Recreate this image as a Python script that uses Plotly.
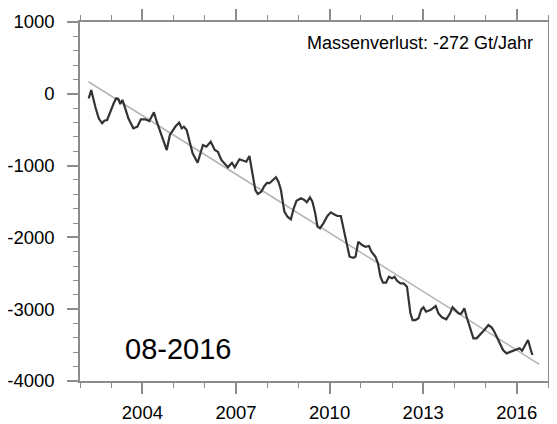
import plotly.graph_objects as go

# Monthly mass anomaly (Gt)
years = [2002.28, 2002.36, 2002.49, 2002.60, 2002.71, 2002.78, 2002.87, 2002.97, 2003.08, 2003.16,
         2003.23, 2003.29, 2003.36, 2003.45, 2003.55, 2003.71, 2003.84, 2003.95, 2004.09, 2004.22,
         2004.37, 2004.46, 2004.62, 2004.78, 2004.88, 2004.99, 2005.07, 2005.18, 2005.26, 2005.33,
         2005.42, 2005.50, 2005.61, 2005.77, 2005.86, 2005.94, 2006.05, 2006.19, 2006.32, 2006.42,
         2006.53, 2006.64, 2006.74, 2006.87, 2006.96, 2007.11, 2007.24, 2007.33, 2007.43, 2007.54,
         2007.62, 2007.70, 2007.81, 2007.91, 2008.00, 2008.07, 2008.16, 2008.28, 2008.36, 2008.44,
         2008.55, 2008.65, 2008.76, 2008.85, 2008.94, 2009.08, 2009.19, 2009.27, 2009.37, 2009.45,
         2009.54, 2009.61, 2009.69, 2009.80, 2009.93, 2010.04, 2010.14, 2010.25, 2010.36, 2010.46,
         2010.57, 2010.64, 2010.76, 2010.83, 2010.92, 2011.04, 2011.15, 2011.26, 2011.34, 2011.47,
         2011.55, 2011.63, 2011.71, 2011.81, 2011.90, 2012.00, 2012.08, 2012.16, 2012.27, 2012.37,
         2012.48, 2012.53, 2012.59, 2012.66, 2012.75, 2012.85, 2012.94, 2013.01, 2013.09, 2013.23,
         2013.40, 2013.49, 2013.60, 2013.74, 2013.86, 2013.94, 2014.02, 2014.13, 2014.21, 2014.32,
         2014.39, 2014.50, 2014.61, 2014.71, 2014.82, 2014.96, 2015.09, 2015.19, 2015.28, 2015.40,
         2015.56, 2015.67, 2015.81, 2015.94, 2016.09, 2016.17, 2016.27, 2016.36, 2016.45, 2016.50]
mass = [-63, 53, -180, -341, -411, -375, -365, -249, -132, -63,
        -72, -142, -86, -202, -341, -481, -458, -355, -355, -379,
        -258, -389, -574, -783, -574, -504, -449, -403, -481, -458,
        -504, -644, -829, -960, -829, -713, -737, -667, -783, -807,
        -922, -968, -1024, -960, -1024, -912, -932, -946, -866, -1155,
        -1340, -1396, -1364, -1284, -1238, -1247, -1211, -1163, -1224, -1340,
        -1642, -1712, -1748, -1595, -1489, -1456, -1479, -1511, -1442, -1503,
        -1665, -1851, -1874, -1804, -1702, -1651, -1679, -1702, -1702, -1897,
        -2130, -2269, -2283, -2269, -2060, -2106, -2130, -2120, -2200, -2269,
        -2361, -2548, -2631, -2631, -2548, -2570, -2548, -2604, -2640, -2640,
        -2687, -2872, -3058, -3151, -3151, -3127, -3002, -2974, -3035, -3012,
        -2956, -3058, -3113, -3141, -3058, -2974, -3012, -3058, -3067, -2988,
        -3105, -3267, -3406, -3406, -3360, -3290, -3221, -3253, -3314, -3430,
        -3569, -3615, -3593, -3569, -3545, -3579, -3499, -3430, -3569, -3638]

# Linear trend (-272 Gt/Jahr)
trend_years = [2002.27, 2016.72]
trend_mass = [168, -3767]

x_tickvals = [2004, 2007, 2010, 2013, 2016]
x_ticktext = ["2004", "2007", "2010", "2013", "2016"]
y_tickvals = [1000, 0, -1000, -2000, -3000, -4000]
y_ticktext = ["1000", "0", "-1000", "-2000", "-3000", "-4000"]

label_rate = "Massenverlust: -272 Gt/Jahr"
label_date = "08-2016"

font_family = "Liberation Sans, Arial, Helvetica, sans-serif"
axis_col = "#8c8c8c"

fig = go.Figure()
fig.add_trace(go.Scatter(x=trend_years, y=trend_mass, mode="lines",
                         line=dict(color="#b4b4b4", width=1.5), showlegend=False))
fig.add_trace(go.Scatter(x=years, y=mass, mode="lines",
                         line=dict(color="#333333", width=2.2), showlegend=False))

axis_common = dict(
    showgrid=False, zeroline=False, showline=True, linecolor=axis_col, linewidth=1.5,
    mirror="ticks", ticks="outside", ticklen=11, tickwidth=1.5, tickcolor=axis_col,
    automargin=False,
    tickfont=dict(family=font_family, size=18.5, color="#000000"),
)

fig.update_xaxes(range=[2002, 2017], tickvals=x_tickvals, ticktext=x_ticktext,
                 ticklabelstandoff=3,
                 minor=dict(dtick=1, tick0=2002, ticks="outside", ticklen=5,
                            tickwidth=1.2, tickcolor=axis_col, showgrid=False),
                 **axis_common)
fig.update_yaxes(range=[-4000, 1000], tickvals=y_tickvals, ticktext=y_ticktext,
                 ticklabelstandoff=9,
                 minor=dict(dtick=200, tick0=0, ticks="outside", ticklen=5,
                            tickwidth=1.2, tickcolor=axis_col, showgrid=False),
                 **axis_common)

fig.add_annotation(text=label_rate, xref="paper", yref="paper", x=0.972, y=0.941,
                   xanchor="right", yanchor="middle", showarrow=False,
                   font=dict(family=font_family, size=18, color="#000000"))
fig.add_annotation(text=label_date, xref="paper", yref="paper", x=0.092, y=0.089,
                   xanchor="left", yanchor="middle", showarrow=False,
                   font=dict(family=font_family, size=29, color="#000000"))

# page body adds an 8px offset; size the figure to fit the 557x424 window
fig.update_layout(width=549, height=416, margin=dict(l=72, r=9, t=14, b=43),
                  plot_bgcolor="white", paper_bgcolor="white")

fig.write_html("out.html")
